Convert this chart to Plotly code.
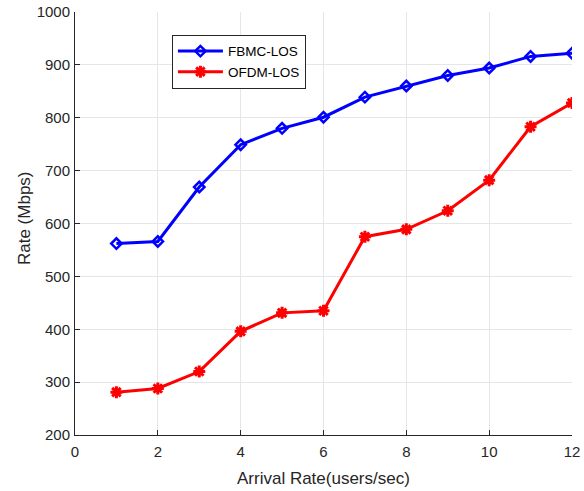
import plotly.graph_objects as go

x = [1, 2, 3, 4, 5, 6, 7, 8, 9, 10, 11, 12]
fbmc = [562, 566, 669, 749, 780, 801, 839, 860, 880, 894, 916, 922]
ofdm = [281, 288, 320, 396, 431, 435, 575, 589, 624, 682, 783, 828]
x_title = "Arrival Rate(users/sec)"
y_title = "Rate (Mbps)"

fig = go.Figure()
fig.add_trace(go.Scatter(
    x=x, y=fbmc, name="FBMC-LOS", mode="lines+markers",
    line=dict(color="#0000ff", width=3),
    marker=dict(symbol="diamond-open", size=8, color="#0000ff",
                line=dict(color="#0000ff", width=2.5)),
))
fig.add_trace(go.Scatter(
    x=x, y=ofdm, name="OFDM-LOS", mode="lines+markers",
    line=dict(color="#ff0000", width=3),
    marker=dict(symbol="asterisk-open", size=10, color="#ff0000",
                line=dict(color="#ff0000", width=3)),
))

axis_common = dict(
    showgrid=True, gridcolor="#e6e6e6", gridwidth=1,
    showline=True, linecolor="#262626", linewidth=1,
    ticks="inside", ticklen=5, tickcolor="#262626",
    tickfont=dict(family="Liberation Sans, Arial", size=15, color="#262626"),
    zeroline=False, mirror=False, automargin=False,
)

fig.update_layout(
    width=584, height=491,
    margin=dict(l=75, r=12, t=12, b=56),
    paper_bgcolor="white", plot_bgcolor="white",
    font=dict(family="Liberation Sans, Arial", size=15, color="#262626"),
    xaxis=dict(range=[0, 12], dtick=2, tick0=0, ticklabelstandoff=3, **axis_common),
    yaxis=dict(range=[200, 1000], dtick=100, tick0=200, ticklabelstandoff=1, **axis_common),
    legend=dict(x=0.195, y=0.946, xanchor="left", yanchor="top",
                bgcolor="white", bordercolor="#262626", borderwidth=1,
                font=dict(size=13.5, color="black"), itemwidth=45,
                tracegroupgap=0),
    showlegend=True,
    annotations=[
        dict(text=x_title, xref="paper", yref="paper", x=0.5, y=-0.1017,
             xanchor="center", yanchor="middle", showarrow=False,
             font=dict(size=17, color="#262626")),
        dict(text=y_title, xref="paper", yref="paper", x=-0.1026, y=0.513,
             xanchor="center", yanchor="middle", showarrow=False, textangle=-90,
             font=dict(size=17, color="#262626")),
    ],
)

fig.write_html("out.html")
